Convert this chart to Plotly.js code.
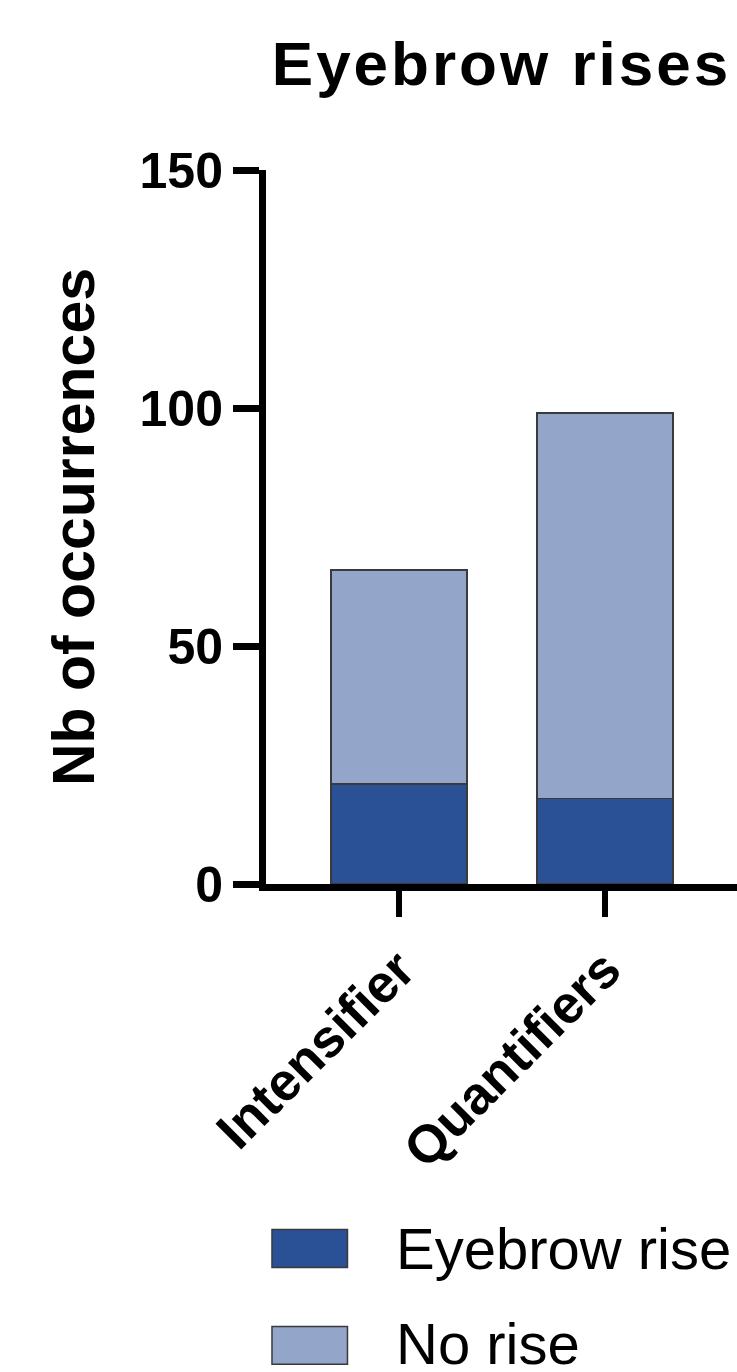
<!DOCTYPE html>
<html>
<head>
<meta charset="utf-8">
<script src="https://cdn.plot.ly/plotly-3.0.1.min.js"></script>
<style>
html,body{margin:0;padding:0;background:#fff;}
#chart{width:737px;height:1372px;}
#chart .gtitle{letter-spacing:3px;}
</style>
</head>
<body>
<div id="chart"></div>
<script>
const categories = ["Intensifier", "Quantifiers"];
const eyebrowRise = [21, 18];
const noRise = [45, 81];
const seriesNames = ["Eyebrow rise", "No rise"];
const yTicks = [0, 50, 100, 150];

const FONT = "Arial, 'Liberation Sans', Helvetica, sans-serif";
const colors = ["#2A5096", "#93A5C8"];

const traces = [
  {type: "bar", name: seriesNames[0], x: categories, y: eyebrowRise,
   marker: {color: colors[0], line: {color: "#3a3a3a", width: 1.5}}, width: 0.66, hoverinfo: "skip"},
  {type: "bar", name: seriesNames[1], x: categories, y: noRise,
   marker: {color: colors[1], line: {color: "#3a3a3a", width: 1.5}}, width: 0.66, hoverinfo: "skip"}
];

// legend drawn as swatches + labels (paper coordinates)
const shapes = [];
const annotations = [];
const legRows = [{y0: -0.4839, y1: -0.5371, ty: -0.5105}, {y0: -0.6196, y1: -0.6727, ty: -0.6440}];
seriesNames.forEach((n, i) => {
  shapes.push({type: "rect", xref: "paper", yref: "paper", x0: 0.0127, x1: 0.173,
    y0: legRows[i].y0, y1: legRows[i].y1, fillcolor: colors[i], line: {color: "#3a3a3a", width: 1.5}});
  annotations.push({xref: "paper", yref: "paper", x: 0.2722, y: legRows[i].ty, xanchor: "left", yanchor: "middle",
    text: n, showarrow: false, font: {family: FONT, size: 58, color: "#000"}});
});

const layout = {
  width: 737, height: 1372,
  margin: {l: 266, r: 0, t: 170, b: 488},
  paper_bgcolor: "#fff", plot_bgcolor: "#fff",
  barmode: "stack",
  showlegend: false,
  title: {text: "<b>Eyebrow rises</b>", font: {family: FONT, size: 62, color: "#000"},
          x: 0.5, xref: "paper", xanchor: "center", y: 0.954, yref: "container", yanchor: "middle"},
  xaxis: {
    type: "category", range: [-0.6456, 1.6408], fixedrange: true,
    showline: true, linecolor: "#000", linewidth: 7,
    ticks: "outside", ticklen: 26, tickwidth: 6, tickcolor: "#000",
    tickangle: -45, tickfont: {family: FONT, size: 53, color: "#000", weight: "bold"},
    showgrid: false, zeroline: false
  },
  yaxis: {
    range: [0, 150], tickvals: yTicks, ticktext: yTicks.map(String), fixedrange: true,
    showline: true, linecolor: "#000", linewidth: 7,
    ticks: "outside", ticklen: 26, tickwidth: 7, tickcolor: "#000",
    tickfont: {family: FONT, size: 50, color: "#000", weight: "bold"},
    showgrid: false, zeroline: false,
    title: {text: "<b>Nb of occurrences</b>", font: {family: FONT, size: 59, color: "#000"}, standoff: 28}
  },
  shapes: shapes,
  annotations: annotations
};

Plotly.newPlot("chart", traces, layout, {displayModeBar: false, staticPlot: true});
</script>
</body>
</html>
